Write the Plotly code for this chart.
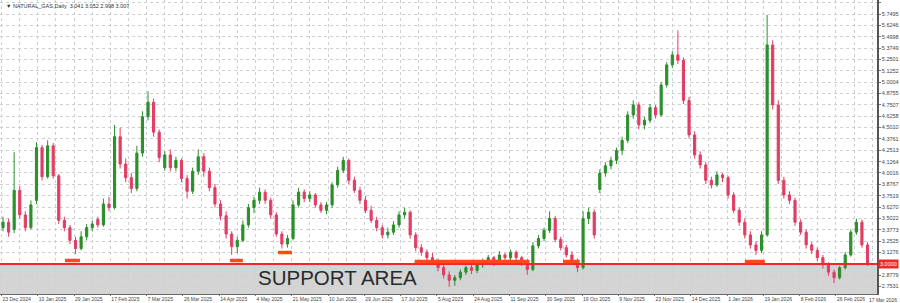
import plotly.graph_objects as go

# ---------------- data ----------------
opens = [3.40,3.46,3.38,3.81,3.54,3.40,3.70,4.28,3.96,4.30,
         3.97,3.48,3.40,3.26,3.17,3.30,3.40,3.49,3.43,3.66,
         3.62,4.40,4.10,3.95,3.83,4.22,4.62,4.78,4.45,4.06,
         4.20,4.06,4.14,3.94,3.80,4.02,4.18,4.02,3.84,3.66,
         3.53,3.33,3.19,3.26,3.43,3.62,3.70,3.79,3.70,3.54,
         3.33,3.22,3.28,3.65,3.79,3.72,3.76,3.65,3.59,3.65,
         3.87,4.03,4.14,3.92,3.81,3.70,3.59,3.48,3.40,3.32,
         3.35,3.43,3.54,3.57,3.32,3.18,3.13,3.07,3.02,2.96,
         2.88,2.82,2.85,2.91,2.96,2.93,2.99,3.02,3.07,3.02,
         3.10,3.07,3.13,3.07,3.02,2.94,3.20,3.28,3.37,3.50,
         3.27,3.18,3.10,3.02,2.96,3.50,3.57,3.82,4.00,4.08,
         4.14,4.25,4.36,4.64,4.75,4.53,4.58,4.72,4.64,4.97,
         5.19,5.30,5.24,4.80,4.42,4.20,4.09,3.92,3.87,3.98,
         3.95,3.76,3.59,3.46,3.32,3.21,3.15,3.32,5.41,4.75,
         3.92,3.76,3.70,3.46,3.35,3.21,3.15,3.07,2.99,2.91,
         2.85,2.96,3.10,3.35,3.46,3.21]
highs = [3.52,3.50,4.23,3.86,3.58,3.70,4.34,4.31,4.36,4.33,
         3.99,3.52,3.43,3.30,3.36,3.44,3.48,3.52,3.72,3.74,
         4.53,4.50,4.16,4.00,4.30,4.68,4.90,4.82,4.48,4.24,
         4.26,4.18,4.16,3.98,4.06,4.26,4.22,4.06,3.88,3.70,
         3.58,3.36,3.30,3.48,3.66,3.74,3.84,3.82,3.73,3.57,
         3.36,3.32,3.70,3.84,3.82,3.80,3.78,3.68,3.68,3.90,
         4.07,4.18,4.16,3.96,3.85,3.75,3.64,3.52,3.43,3.40,
         3.47,3.58,3.62,3.59,3.35,3.22,3.16,3.12,3.06,2.99,
         2.92,2.88,2.94,2.98,2.99,3.02,3.06,3.10,3.09,3.14,
         3.12,3.16,3.15,3.09,3.05,3.24,3.32,3.40,3.58,3.53,
         3.30,3.21,3.14,3.06,3.58,3.62,3.60,4.04,4.12,4.18,
         4.28,4.40,4.68,4.80,4.78,4.62,4.76,4.75,5.00,5.22,
         5.34,5.57,5.27,4.84,4.46,4.24,4.12,3.96,4.02,4.00,
         3.97,3.79,3.62,3.50,3.36,3.25,3.36,5.74,5.46,4.80,
         3.96,3.80,3.73,3.49,3.38,3.24,3.18,3.10,3.02,2.94,
         2.98,3.13,3.38,3.50,3.49,3.24]
lows = [3.36,3.30,3.34,3.50,3.36,3.38,3.66,3.92,3.94,3.94,
        3.44,3.36,3.22,3.11,3.15,3.26,3.36,3.40,3.41,3.58,
        3.60,4.05,3.90,3.78,3.80,4.18,4.58,4.40,4.12,4.03,
        4.02,4.02,3.90,3.72,3.77,3.98,3.96,3.80,3.62,3.48,
        3.28,3.10,3.12,3.24,3.40,3.56,3.66,3.66,3.50,3.30,
        3.17,3.18,3.26,3.62,3.68,3.68,3.62,3.56,3.55,3.62,
        3.84,4.00,3.88,3.78,3.66,3.56,3.45,3.36,3.28,3.28,
        3.32,3.40,3.50,3.28,3.14,3.09,3.03,2.99,2.92,2.84,
        2.75,2.76,2.82,2.88,2.89,2.90,2.96,3.00,2.98,3.00,
        3.02,3.04,3.02,2.98,2.88,2.92,3.17,3.25,3.34,3.24,
        3.15,3.07,2.99,2.91,2.94,3.44,3.28,3.78,3.96,4.04,
        4.10,4.20,4.33,4.60,4.48,4.48,4.55,4.60,4.62,4.94,
        5.16,5.20,4.76,4.38,4.16,4.05,3.88,3.83,3.85,3.90,
        3.72,3.56,3.42,3.28,3.17,3.10,3.12,3.30,4.70,3.88,
        3.72,3.66,3.42,3.32,3.17,3.11,3.03,2.95,2.87,2.79,
        2.83,2.94,3.08,3.32,3.18,2.98]
closes = [3.46,3.35,3.81,3.54,3.40,3.65,4.28,3.96,4.30,3.97,
          3.48,3.40,3.26,3.17,3.30,3.40,3.44,3.43,3.66,3.62,
          4.40,4.10,3.95,3.83,4.22,4.62,4.78,4.45,4.17,4.20,
          4.06,4.14,3.94,3.80,4.02,4.18,4.02,3.84,3.66,3.53,
          3.33,3.19,3.26,3.43,3.62,3.70,3.79,3.70,3.54,3.33,
          3.22,3.28,3.65,3.79,3.72,3.76,3.65,3.59,3.65,3.87,
          4.03,4.14,3.92,3.81,3.70,3.59,3.48,3.40,3.32,3.35,
          3.43,3.54,3.57,3.32,3.18,3.13,3.07,3.02,2.96,2.88,
          2.82,2.85,2.91,2.96,2.93,2.99,3.02,3.07,3.02,3.10,
          3.07,3.13,3.07,3.02,2.94,3.20,3.28,3.37,3.50,3.27,
          3.18,3.10,3.02,2.96,3.50,3.57,3.32,4.00,4.08,4.14,
          4.25,4.36,4.64,4.75,4.53,4.58,4.72,4.64,4.97,5.19,
          5.30,5.24,4.80,4.42,4.20,4.09,3.92,3.87,3.98,3.95,
          3.76,3.59,3.46,3.32,3.21,3.15,3.32,5.41,4.75,3.92,
          3.76,3.70,3.46,3.35,3.21,3.15,3.07,2.99,2.91,2.85,
          2.96,3.10,3.35,3.46,3.21,3.01]
bars = list(range(len(closes)))

date_labels = ["23 Dec 2024", "10 Jan 2025", "29 Jan 2025", "17 Feb 2025", "7 Mar 2025",
               "26 Mar 2025", "14 Apr 2025", "4 May 2025", "21 May 2025", "10 Jun 2025",
               "29 Jun 2025", "17 Jul 2025", "5 Aug 2025", "24 Aug 2025", "11 Sep 2025",
               "30 Sep 2025", "19 Oct 2025", "9 Nov 2025", "23 Nov 2025", "14 Dec 2025",
               "1 Jan 2026", "19 Jan 2026", "8 Feb 2026", "26 Feb 2026", "17 Mar 2026"]
price_ticks = [5.8743, 5.7495, 5.6246, 5.4998, 5.3749, 5.2501, 5.1252, 5.0004, 4.8755,
               4.7507, 4.6258, 4.5010, 4.3761, 4.2513, 4.1264, 4.0016, 3.8767, 3.7519,
               3.6270, 3.5022, 3.3773, 3.2525, 3.1276, 2.8779, 2.7531]

support_level = 3.00
zone_start = [11.1, 40.7, 49.3, 73.8, 100.4, 133.0]
zone_end = [13.8, 43.0, 51.8, 94.4, 103.4, 136.6]
zone_level = [3.0385, 3.0385, 3.1265, 3.0275, 3.0275, 3.0275]

header_text = "\u25BC NATURAL_GAS,Daily  3.041 3.052 2.998 3.007"

# ---------------- figure ----------------
FONT = "Liberation Sans"
fig = go.Figure()

fig.add_trace(go.Candlestick(
    x=bars, open=opens, high=highs, low=lows, close=closes,
    increasing=dict(line=dict(color="#2b8f2b", width=1), fillcolor="#2b8f2b"),
    decreasing=dict(line=dict(color="#e23c64", width=1), fillcolor="#e23c64"),
    whiskerwidth=0, showlegend=False, hoverinfo="skip"))

shapes = []
# grey support area
shapes.append(dict(type="rect", xref="paper", yref="y", x0=0, x1=1,
                   y0=2.0, y1=support_level, fillcolor="#d4d4d4",
                   line=dict(width=0), layer="below"))
# red support line
shapes.append(dict(type="line", xref="paper", yref="y", x0=0, x1=1,
                   y0=support_level, y1=support_level,
                   line=dict(color="#f02828", width=2), layer="above"))
# orange touch marks
for s, e, lv in zip(zone_start, zone_end, zone_level):
    shapes.append(dict(type="line", xref="x", yref="y", x0=s, x1=e, y0=lv, y1=lv,
                       line=dict(color="#ff4a14", width=3.5), layer="above"))

n_lab = len(date_labels)
tick_pos = [-0.27 + 6.505 * j for j in range(n_lab)]

annotations = [
    dict(text=header_text, xref="paper", yref="paper", x=0.004, y=0.997,
         xanchor="left", yanchor="top", showarrow=False,
         font=dict(size=5.5, color="#333", family=FONT)),
    dict(text="SUPPORT AREA", xref="x", yref="y", x=60, y=2.855,
         xanchor="center", yanchor="middle", showarrow=False,
         font=dict(size=20.5, color="#2a2a2a", family=FONT)),
    dict(text="3.0000", xref="paper", yref="y", x=1.0, y=support_level,
         xanchor="left", yanchor="middle", showarrow=False,
         bgcolor="#f02828", font=dict(size=5.5, color="white", family=FONT),
         borderpad=1, xshift=1),
    # last date label sits under the price scale, as in the terminal
    dict(text=date_labels[-1], xref="paper", yref="paper", x=1.0, y=0,
         xanchor="right", yanchor="top", showarrow=False, yshift=-1, xshift=22,
         font=dict(size=5, color="#444", family=FONT)),
]

fig.update_layout(
    width=900, height=303,
    margin=dict(l=0, r=23, t=0, b=9),
    paper_bgcolor="white", plot_bgcolor="white",
    shapes=shapes, boxgap=0.45,
    font=dict(family=FONT, size=5.5, color="#444"),
    xaxis=dict(range=[-0.54, 156.7], rangeslider=dict(visible=False),
               tickmode="array", tickvals=tick_pos[:-1], ticktext=date_labels[:-1],
               tickangle=0, automargin=False,
               ticklabelposition="outside right", ticks="outside", ticklen=1,
               tickcolor="#777", tickfont=dict(size=5, color="#444", family=FONT),
               showgrid=True, gridcolor="#c9d0da", griddash="dot", gridwidth=1,
               minor=dict(tick0=-0.27, dtick=3.2525, showgrid=True,
                          gridcolor="#c9d0da", griddash="dot", gridwidth=1),
               showline=True, linecolor="#666", linewidth=1, mirror=False,
               zeroline=False, fixedrange=True),
    yaxis=dict(side="right", range=[2.670, 5.904], tickmode="array",
               tickvals=price_ticks, ticktext=[f"{v:.4f}" for v in price_ticks],
               ticks="outside", ticklen=2, tickcolor="#777", automargin=False,
               tickfont=dict(size=5.5, color="#444", family=FONT),
               showgrid=True, gridcolor="#cfcfcf", griddash="dot", gridwidth=1,
               showline=True, linecolor="#555", linewidth=1.5, mirror=True,
               zeroline=False, fixedrange=True),
    annotations=annotations,
)

fig.write_html("out.html")
